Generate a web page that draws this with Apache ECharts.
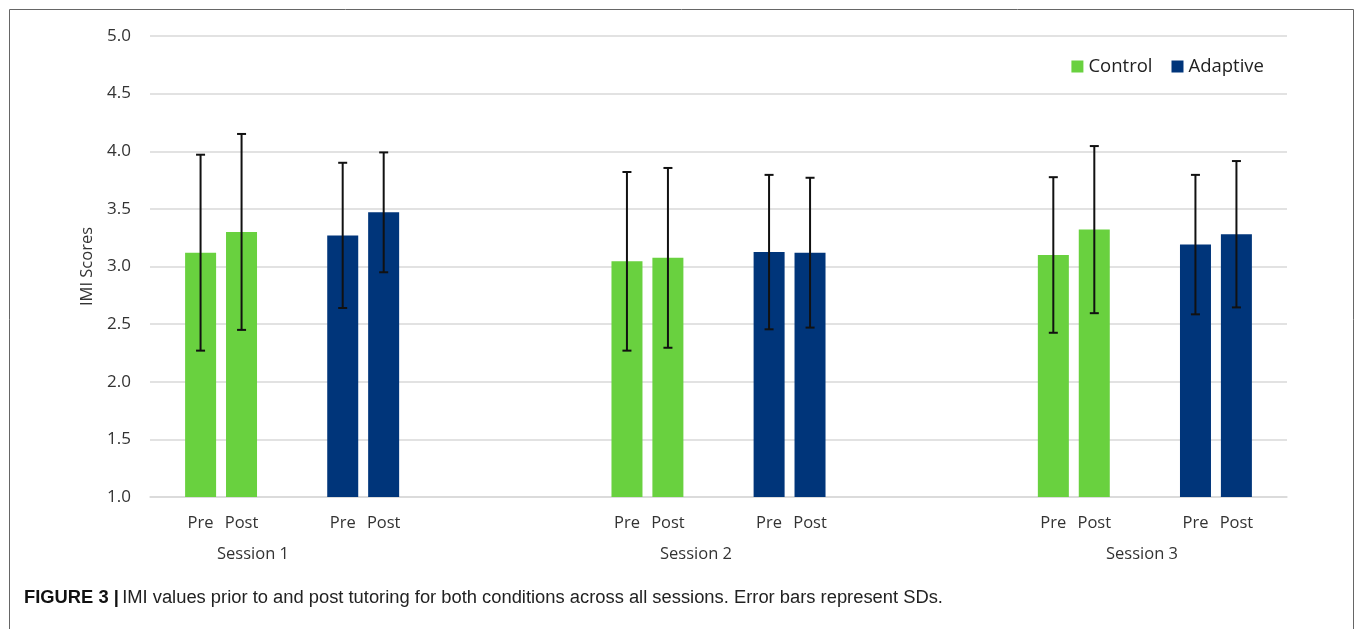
<!DOCTYPE html>
<html>
<head>
<meta charset="utf-8">
<script src="https://cdn.jsdelivr.net/npm/echarts@6/dist/echarts.min.js"></script>
<style>
html,body{margin:0;padding:0;background:#fff;}
#main{width:1357px;height:629px;}
</style>
</head>
<body>
<div id="main"></div>
<script>
// ---- data ----
const sessions = ['Session 1', 'Session 2', 'Session 3'];
const conditions = ['Control', 'Adaptive'];
const timeLabels = ['Pre', 'Post'];
const controlPre = [3.12, 3.045, 3.10];
const controlPost = [3.30, 3.075, 3.32];
const adaptivePre = [3.27, 3.125, 3.19];
const adaptivePost = [3.47, 3.12, 3.28];
const controlPreSD = [0.85, 0.775, 0.675];
const controlPostSD = [0.85, 0.78, 0.725];
const adaptivePreSD = [0.63, 0.67, 0.605];
const adaptivePostSD = [0.52, 0.65, 0.635];
const yMin = 1.0, yMax = 5.0, yStep = 0.5;
const caption = 'IMI values prior to and post tutoring for both conditions across all sessions. Error bars represent SDs.';
const captionLabel = 'FIGURE 3 |';

// ---- styles ----
const GREEN = '#69d13f';
const BLUE = '#00357a';
const TEXT = '#333333';
const FONT = '"Open Sans", sans-serif';
const BAR_W = 31;
const HALF_OFF = 20.5;

// build categories: Control, Adaptive, (spacer) per session
const categories = [];
const slotInfo = [];
sessions.forEach((s, i) => {
  categories.push(s + ' ' + conditions[0]); slotInfo.push({s: i, c: 0});
  categories.push(s + ' ' + conditions[1]); slotInfo.push({s: i, c: 1});
  if (i < sessions.length - 1) { categories.push(''); slotInfo.push(null); }
});

function seriesData(cond, arr) {
  return slotInfo.map(si => (si && si.c === cond) ? arr[si.s] : '-');
}
const errData = [];
slotInfo.forEach((si, idx) => {
  if (!si) return;
  const pre = si.c === 0 ? controlPre : adaptivePre;
  const post = si.c === 0 ? controlPost : adaptivePost;
  const preSD = si.c === 0 ? controlPreSD : adaptivePreSD;
  const postSD = si.c === 0 ? controlPostSD : adaptivePostSD;
  errData.push([idx, pre[si.s], preSD[si.s], -1]);
  errData.push([idx, post[si.s], postSD[si.s], 1]);
});

const chart = echarts.init(document.getElementById('main'));
chart.setOption({
  animation: false,
  backgroundColor: '#fff',
  textStyle: {fontFamily: FONT},
  grid: {left: 150, right: 70, top: 36, bottom: 132},
  legend: {
    data: conditions,
    right: 88, top: 52,
    icon: 'rect', itemWidth: 12, itemHeight: 12, itemGap: 19,
    textStyle: {fontSize: 18.5, color: '#222', fontFamily: FONT}
  },
  xAxis: {
    type: 'category',
    data: categories,
    axisLine: {lineStyle: {color: '#d9d9d9', width: 1.5}},
    axisTick: {show: false},
    axisLabel: {
      interval: 0,
      margin: 18,
      formatter: v => v ? '{a|' + timeLabels[0] + '}{b|' + timeLabels[1] + '}' : '',
      rich: {
        a: {width: 41, align: 'center', fontSize: 16.5, color: TEXT, fontFamily: FONT},
        b: {width: 41, align: 'center', fontSize: 16.5, color: TEXT, fontFamily: FONT}
      }
    }
  },
  yAxis: {
    type: 'value',
    min: yMin, max: yMax, interval: yStep,
    name: 'IMI Scores',
    nameLocation: 'middle',
    nameGap: 51,
    nameTextStyle: {fontSize: 16.5, color: TEXT, fontFamily: FONT},
    axisLine: {show: false},
    axisTick: {show: false},
    axisLabel: {formatter: v => v.toFixed(1), fontSize: 17, color: TEXT, margin: 19, fontFamily: FONT},
    splitLine: {lineStyle: {color: '#d9d9d9', width: 1.5}}
  },
  series: [
    {name: conditions[0], type: 'bar', stack: 'pre', barWidth: BAR_W, barGap: '32%', itemStyle: {color: GREEN}, data: seriesData(0, controlPre)},
    {name: conditions[1], type: 'bar', stack: 'pre', barWidth: BAR_W, itemStyle: {color: BLUE}, data: seriesData(1, adaptivePre)},
    {name: conditions[0], type: 'bar', stack: 'post', barWidth: BAR_W, itemStyle: {color: GREEN}, data: seriesData(0, controlPost)},
    {name: conditions[1], type: 'bar', stack: 'post', barWidth: BAR_W, itemStyle: {color: BLUE}, data: seriesData(1, adaptivePost)},
    {
      type: 'custom',
      z: 10,
      encode: {x: 0, y: 1},
      data: errData,
      renderItem: function (params, api) {
        const idx = api.value(0), m = api.value(1), sd = api.value(2), sgn = api.value(3);
        const top = api.coord([idx, m + sd]);
        const bot = api.coord([idx, m - sd]);
        const x = top[0] + sgn * HALF_OFF;
        const st = {stroke: '#111', lineWidth: 2};
        return {
          type: 'group',
          children: [
            {type: 'line', shape: {x1: x, y1: top[1], x2: x, y2: bot[1]}, style: st},
            {type: 'line', shape: {x1: x - 4.5, y1: top[1], x2: x + 4.5, y2: top[1]}, style: st},
            {type: 'line', shape: {x1: x - 4.5, y1: bot[1], x2: x + 4.5, y2: bot[1]}, style: st}
          ]
        };
      }
    }
  ],
  graphic: [
    {type: 'rect', shape: {x: 9.5, y: 9.5, width: 1344, height: 700}, style: {fill: 'none', stroke: '#666', lineWidth: 1}, silent: true},
    {type: 'text', x: 253, y: 554, style: {text: sessions[0], fontSize: 16.5, fill: TEXT, fontFamily: FONT, align: 'center', verticalAlign: 'middle'}},
    {type: 'text', x: 696, y: 554, style: {text: sessions[1], fontSize: 16.5, fill: TEXT, fontFamily: FONT, align: 'center', verticalAlign: 'middle'}},
    {type: 'text', x: 1142, y: 554, style: {text: sessions[2], fontSize: 16.5, fill: TEXT, fontFamily: FONT, align: 'center', verticalAlign: 'middle'}},
    {type: 'text', x: 24, y: 598, style: {
      text: '{b|' + captionLabel + '} {r|' + caption + '}',
      verticalAlign: 'middle',
      rich: {
        b: {fontSize: 18.35, fontWeight: 'bold', fill: '#111', fontFamily: '"Liberation Sans", Arial, sans-serif'},
        r: {fontSize: 18.35, fill: '#222', fontFamily: '"Liberation Sans", Arial, sans-serif'}
      }
    }}
  ]
});
</script>
</body>
</html>
